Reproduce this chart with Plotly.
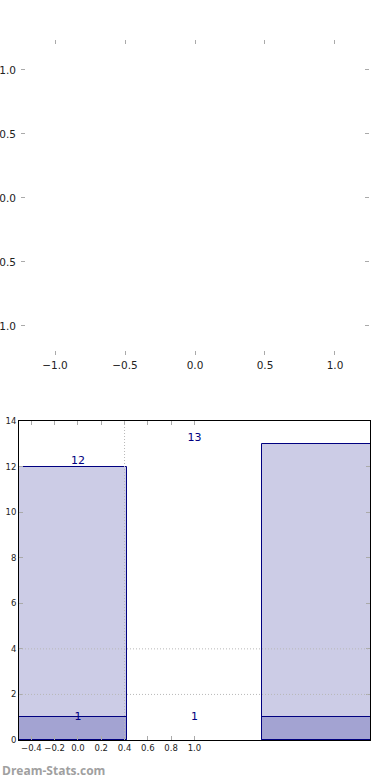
import plotly.graph_objects as go

# ---- data ----
top_ticks = [-1.0, -0.5, 0.0, 0.5, 1.0]
top_ticktext = ["\u22121.0", "\u22120.5", "0.0", "0.5", "1.0"]

bar_x = [-0.05, 2.05]          # bar centres (as drawn)
bar_width = [0.94, 0.94]
totals = [12, 13]
sub_values = [1, 1]
label_x = [0, 1]                # where the value labels sit
x_ticks = [-0.4, -0.2, 0.0, 0.2, 0.4, 0.6, 0.8, 1.0]
x_ticktext = ["\u22120.4", "\u22120.2", "0.0", "0.2", "0.4", "0.6", "0.8", "1.0"]
y_ticks = [0, 2, 4, 6, 8, 10, 12, 14]
hgrid_y = [2, 4]
vgrid_x = [0.4]

NAVY = "#000080"
FILL = "rgba(0,0,128,0.2)"
FONT = "DejaVu Sans"

fig = go.Figure()

# empty top axes
fig.add_trace(go.Scatter(x=[], y=[], xaxis="x", yaxis="y", showlegend=False))

# bars (overlay)
fig.add_trace(go.Bar(x=bar_x, y=totals, width=bar_width, xaxis="x2", yaxis="y2",
                     marker=dict(color=FILL, line=dict(color=NAVY, width=1)),
                     showlegend=False, hoverinfo="skip"))
fig.add_trace(go.Bar(x=bar_x, y=sub_values, width=bar_width, xaxis="x2", yaxis="y2",
                     marker=dict(color=FILL, line=dict(color=NAVY, width=1)),
                     showlegend=False, hoverinfo="skip"))

# labels
fig.add_trace(go.Scatter(x=label_x, y=totals, mode="text", text=[str(v) for v in totals],
                         textposition="top center", xaxis="x2", yaxis="y2",
                         textfont=dict(family=FONT, size=11, color=NAVY),
                         cliponaxis=False, showlegend=False, hoverinfo="skip"))
fig.add_trace(go.Scatter(x=label_x, y=sub_values, mode="text", text=[str(v) for v in sub_values],
                         textposition="middle center", xaxis="x2", yaxis="y2",
                         textfont=dict(family=FONT, size=11, color=NAVY),
                         cliponaxis=False, showlegend=False, hoverinfo="skip"))

shapes = []
for gy in hgrid_y:
    shapes.append(dict(type="line", xref="x2 domain", yref="y2", x0=0, x1=1, y0=gy, y1=gy,
                       line=dict(color="#b8b8b8", width=1, dash="1px,2px"), layer="above"))
for gx in vgrid_x:
    shapes.append(dict(type="line", xref="x2", yref="y2 domain", x0=gx, x1=gx, y0=0, y1=1,
                       line=dict(color="#b8b8b8", width=1, dash="1px,2px"), layer="above"))

tick_common = dict(ticks="inside", ticklen=4, tickcolor="#aaaaaa", tickwidth=1,
                   showgrid=False, zeroline=False, automargin=False)

fig.update_layout(
    width=390, height=780,
    margin=dict(l=0, r=0, t=0, b=0),
    paper_bgcolor="white", plot_bgcolor="white",
    font=dict(family=FONT, color="#222222"),
    barmode="overlay",
    bargap=0,
    shapes=shapes,
    xaxis=dict(domain=[21/390, 369/390], range=[-1.243, 1.243], anchor="y",
               tickvals=top_ticks, ticktext=top_ticktext, tickfont=dict(size=10.5),
               ticklabelstandoff=2,
               showline=False, mirror="ticks", **tick_common),
    yaxis=dict(domain=[1-355/780, 1-40/780], range=[-1.227, 1.234], anchor="x",
               tickvals=top_ticks, ticktext=top_ticktext, tickfont=dict(size=10.5),
               ticklabelstandoff=4,
               showline=False, mirror="ticks", **tick_common),
    xaxis2=dict(domain=[19/390, 370/390], range=[-0.506, 2.507], anchor="y2",
                tickvals=x_ticks, ticktext=x_ticktext, tickfont=dict(size=8.5),
                showline=True, linecolor="black", linewidth=1, mirror="all", **tick_common),
    yaxis2=dict(domain=[1-740/780, 1-421/780], range=[0, 14], anchor="x2",
                tickvals=y_ticks, tickfont=dict(size=8.5),
                showline=True, linecolor="black", linewidth=1, mirror="all", **tick_common),
    annotations=[dict(text="<b>Dream-Stats.com</b>", xref="paper", yref="paper",
                      x=0, y=10/780, xanchor="left", yanchor="middle", showarrow=False,
                      font=dict(family="Open Sans", size=12, color="#a0a0a0"))],
)

fig.write_html("out.html", config={"displayModeBar": False},
               post_script="document.body.style.margin='0';document.body.style.overflow='hidden';")
